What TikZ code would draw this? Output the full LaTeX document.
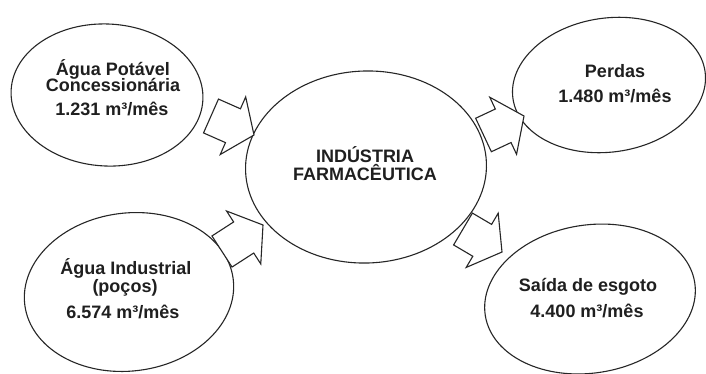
\documentclass[tikz,border=0pt]{standalone}
\usepackage{fontspec}
\setmainfont{Liberation Sans}
\usetikzlibrary{shapes.geometric,calc}
\tikzset{
  bubble/.style={ellipse,draw=black!85,line width=1.1pt,fill=white,inner sep=0pt},
  barrow/.style={draw=black!85,line width=1.1pt,fill=white,line join=miter},
  lbl/.style={anchor=base,inner sep=0pt,text=black!88,font=\bfseries\fontsize{18}{18}\selectfont}
}
\newcommand{\blockarr}[2]{%
  \path ($(#2)!23pt!(#1)$) coordinate (#1-h);
  \draw[barrow] ($(#1)!18.5pt!90:(#2)$) -- ($(#1-h)!18.5pt!90:(#2)$) -- ($(#1-h)!31.5pt!90:(#2)$) -- (#2)
    -- ($(#1-h)!31.5pt!-90:(#2)$) -- ($(#1-h)!18.5pt!-90:(#2)$) -- ($(#1)!18.5pt!-90:(#2)$) -- cycle;
}
\begin{document}
\begin{tikzpicture}[x=1pt,y=-1pt]
\useasboundingbox (0,0) rectangle (706,373);
\fill[white] (0,0) rectangle (706,373);
% ellipses
\node[bubble,minimum width=192pt,minimum height=142pt,rotate=-3] (e1) at (107,95) {};
\node[bubble,minimum width=210pt,minimum height=158pt,rotate=7] (e2) at (129,292) {};
\node[bubble,minimum width=241pt,minimum height=192pt,rotate=2] (c) at (366,167) {};
\node[bubble,minimum width=194pt,minimum height=134pt,rotate=8] (e3) at (609,85) {};
\node[bubble,minimum width=212pt,minimum height=148pt,rotate=9] (e4) at (590,299) {};
% arrow end points
\coordinate (t1) at (211,116); \coordinate (p1) at (254,135);
\coordinate (t2) at (222,251.5); \coordinate (p2) at (263,225);
\coordinate (t3) at (483.5,135); \coordinate (p3) at (524,116);
\coordinate (t4) at (463,229); \coordinate (p4) at (502,252);
\blockarr{t1}{p1}
\blockarr{t2}{p2}
\blockarr{t3}{p3}
\blockarr{t4}{p4}
% texts
\node[lbl] (a1) at (113,75) {Água Potável};
\node[lbl] (a2) at (113,91) {Concessionária};
\node[lbl] (a3) at (112,115) {1.231 m³/mês};
\node[lbl] (b1) at (126,274) {Água Industrial};
\node[lbl] (b2) at (125,292) {(poços)};
\node[lbl] (b3) at (123,318) {6.574 m³/mês};
\node[lbl] (c1) at (365,162) {INDÚSTRIA};
\node[lbl] (c2) at (365,180) {FARMACÊUTICA};
\node[lbl] (d1) at (615,77) {Perdas};
\node[lbl] (d2) at (615,102) {1.480 m³/mês};
\node[lbl] (f1) at (588,291) {Saída de esgoto};
\node[lbl] (f2) at (587,317) {4.400 m³/mês};
\end{tikzpicture}
\end{document}
